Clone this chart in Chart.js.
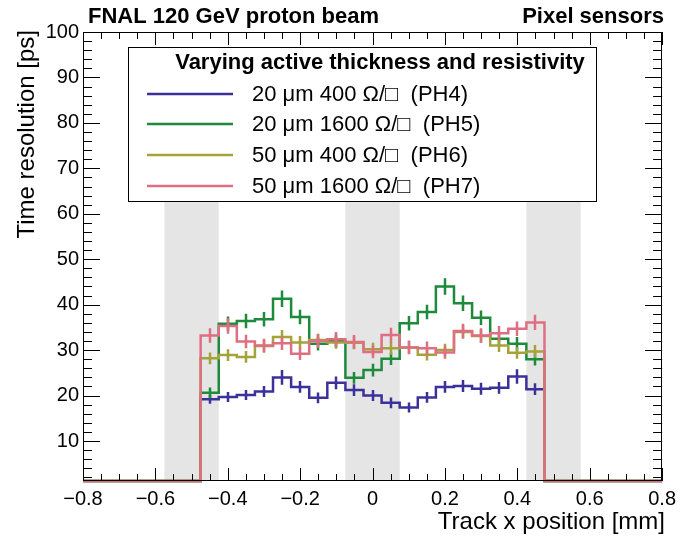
<!DOCTYPE html>
<html><head><meta charset="utf-8">
<script src="https://cdn.jsdelivr.net/npm/chart.js@4/dist/chart.umd.min.js"></script>
<style>html,body{margin:0;padding:0;background:#fff}#wrap{width:682px;height:537px}canvas{display:block}</style>
</head><body>
<div id="wrap"><canvas id="c" width="682" height="537"></canvas></div>
<script>
// ---- data ----
const binCenters = [-0.45,-0.40,-0.35,-0.30,-0.25,-0.20,-0.15,-0.10,-0.05,0.00,0.05,0.10,0.15,0.20,0.25,0.30,0.35,0.40,0.45];
const binWidth = 0.05;
const ph4 = [19.2,19.7,20.1,20.9,24.0,21.9,19.5,22.8,21.2,20.0,18.4,17.4,19.6,21.9,22.1,21.5,21.7,24.2,21.4];
const ph5 = [20.6,35.8,36.4,36.8,41.3,37.3,31.4,32.0,23.9,25.6,28.1,35.9,38.4,44.0,40.3,37.1,32.5,31.4,28.0];
const ph6 = [28.2,28.9,28.5,30.9,32.9,31.7,32.2,31.7,31.6,30.2,30.4,30.6,29.0,30.0,34.0,33.1,31.0,29.4,29.7];
const ph7 = [33.2,35.3,31.9,31.0,31.5,29.2,32.0,32.4,31.8,29.6,33.3,30.6,30.4,29.5,34.2,33.2,33.7,34.7,36.1];
const ph4Err = [1.0,1.1,1.1,1.2,1.6,1.3,1.2,1.4,1.3,1.2,1.2,1.1,1.2,1.3,1.3,1.3,1.3,1.6,1.3];
const ph5Err = [1.2,1.6,1.6,1.6,1.8,1.6,1.5,1.5,1.3,1.4,1.4,1.6,1.6,1.8,1.7,1.6,1.5,1.5,1.4];
const ph6Err = [1.3,1.3,1.3,1.4,1.5,1.4,1.4,1.4,1.4,1.4,1.4,1.4,1.3,1.4,1.5,1.5,1.4,1.3,1.4];
const ph7Err = [1.6,1.7,1.5,1.5,1.5,1.4,1.5,1.6,1.5,1.4,1.6,1.5,1.5,1.4,1.6,1.6,1.6,1.6,1.7];
const seriesLabels = ['20 \u03bcm 400 \u03a9/\u25a1  (PH4)','20 \u03bcm 1600 \u03a9/\u25a1  (PH5)','50 \u03bcm 400 \u03a9/\u25a1  (PH6)','50 \u03bcm 1600 \u03a9/\u25a1  (PH7)'];
const seriesColors = ['#3b3199','#1d8a3c','#a5a23a','#de6f83'];
const xTickValues = [-0.8,-0.6,-0.4,-0.2,0,0.2,0.4,0.6,0.8];
const yTickValues = [10,20,30,40,50,60,70,80,90,100];
const bandCenters = [-0.5,0,0.5];
const bandHalfWidth = 0.075;
const xMin = -0.8, xMax = 0.8, yMin = 1.2, yMax = 100;

const FONT = '"Liberation Sans","Arial","DejaVu Sans",sans-serif';

function histPoints(vals){
  // ROOT draws empty bins (value 0 < axis minimum) on the frame bottom
  const pts = [{x:xMin, y:yMin}];
  binCenters.forEach((c,i)=>pts.push({x:+(c-binWidth/2).toFixed(4), y:vals[i]}));
  pts.push({x:+(binCenters[binCenters.length-1]+binWidth/2).toFixed(4), y:yMin});
  pts.push({x:xMax, y:yMin});
  return pts;
}
const allVals = [ph4,ph5,ph6,ph7];
const allErr = [ph4Err,ph5Err,ph6Err,ph7Err];

const datasets = allVals.map((v,i)=>({
  label: seriesLabels[i],
  data: histPoints(v),
  borderColor: seriesColors[i],
  backgroundColor: seriesColors[i],
  borderWidth: 2.5,
  stepped: 'before',
  pointRadius: 0,
  fill: false,
  order: 4-i,
  clip: false
}));

const rootPlugin = {
  id:'rootStyle',
  beforeDatasetsDraw(chart){
    const {ctx, chartArea:a, scales:{x,y}} = chart;
    ctx.save();
    ctx.fillStyle = '#e5e5e5';
    bandCenters.forEach(c=>{
      const x0 = x.getPixelForValue(c-bandHalfWidth), x1 = x.getPixelForValue(c+bandHalfWidth);
      const yt = y.getPixelForValue(70);
      ctx.fillRect(x0, yt, x1-x0, a.bottom-yt);
    });
    ctx.restore();
  },
  afterDatasetDraw(chart, args){
    const i = args.index;
    const {ctx, scales:{x,y}} = chart;
    ctx.save();
    ctx.strokeStyle = seriesColors[i];
    ctx.lineWidth = 2.5;
    ctx.beginPath();
    binCenters.forEach((c,k)=>{
      const px = Math.round(x.getPixelForValue(c));
      ctx.moveTo(px, y.getPixelForValue(allVals[i][k]-allErr[i][k]));
      ctx.lineTo(px, y.getPixelForValue(allVals[i][k]+allErr[i][k]));
    });
    ctx.stroke();
    ctx.restore();
  },
  afterDatasetsDraw(chart){
    const {ctx, chartArea:a, scales:{x,y}} = chart;
    ctx.save();
    // frame
    ctx.strokeStyle = '#000'; ctx.lineWidth = 1;
    ctx.strokeRect(Math.round(a.left)+0.5, Math.round(a.top)+0.5, Math.round(a.right-a.left)-1, Math.round(a.bottom-a.top)-1);
    // x ticks
    ctx.beginPath();
    for (let k=0;k<=32;k++){
      const v = xMin + k*0.05;
      const px = Math.round(x.getPixelForValue(v))+0.5;
      const len = (k%4===0) ? 13 : 7;
      ctx.moveTo(px, a.bottom); ctx.lineTo(px, a.bottom-len);
      ctx.moveTo(px, a.top); ctx.lineTo(px, a.top+len);
    }
    // y ticks
    for (let v=2; v<=100; v+=2){
      if (v < yMin) continue;
      const py = Math.round(y.getPixelForValue(v))+0.5;
      const len = (v%10===0) ? 17 : 9;
      ctx.moveTo(a.left, py); ctx.lineTo(a.left+len, py);
      ctx.moveTo(a.right, py); ctx.lineTo(a.right-len, py);
    }
    ctx.stroke();
    // legend
    const L = {x0:128, y0:47, x1:597, y1:202};
    ctx.fillStyle = '#fff';
    ctx.fillRect(L.x0, L.y0, L.x1-L.x0, L.y1-L.y0);
    ctx.strokeStyle = '#000'; ctx.lineWidth = 1;
    ctx.strokeRect(L.x0+0.5, L.y0+0.5, L.x1-L.x0-1, L.y1-L.y0-1);
    ctx.fillStyle = '#000';
    ctx.textBaseline = 'middle';
    ctx.textAlign = 'center';
    ctx.font = 'bold 22px '+FONT;
    ctx.fillText('Varying active thickness and resistivity', 380, 63);
    ctx.textAlign = 'left';
    ctx.font = '22px '+FONT;
    const rows = [94,124,155,186];
    seriesLabels.forEach((t,i)=>{
      ctx.strokeStyle = seriesColors[i]; ctx.lineWidth = 2.5;
      ctx.beginPath(); ctx.moveTo(147, rows[i]); ctx.lineTo(233, rows[i]); ctx.stroke();
      ctx.fillStyle = '#000';
      ctx.fillText(t, 252, rows[i]+1);
    });
    ctx.restore();
  },
  afterDraw(chart){
    const {ctx} = chart;
    ctx.save();
    ctx.fillStyle = '#000';
    ctx.font = 'bold 22px '+FONT;
    ctx.textBaseline = 'middle';
    ctx.textAlign = 'left';
    ctx.fillText('FNAL 120 GeV proton beam', 88, 17);
    ctx.textAlign = 'right';
    ctx.fillText('Pixel sensors', 664, 17);
    ctx.font = '24px '+FONT;
    ctx.fillText('Track x position [mm]', 665, 522);
    ctx.translate(27, 30);
    ctx.rotate(-Math.PI/2);
    ctx.textAlign = 'right';
    ctx.fillText('Time resolution [ps]', 0, 0);
    ctx.restore();
  }
};

new Chart(document.getElementById('c'), {
  type:'line',
  data:{datasets},
  options:{
    responsive:false,
    devicePixelRatio:1,
    animation:false,
    layout:{padding:{left:0,top:32,right:16,bottom:0}},
    plugins:{legend:{display:false}, tooltip:{enabled:false}, title:{display:false}},
    scales:{
      x:{
        type:'linear', min:xMin, max:xMax,
        grid:{display:false, drawTicks:false}, border:{display:false},
        afterBuildTicks(s){ s.ticks = xTickValues.map(v=>({value:v})); },
        afterFit(s){ s.height = 56; },
        ticks:{
          padding:6, color:'#000', maxRotation:0, autoSkip:false,
          font:{family:FONT, size:20},
          callback:(v)=> (v===0 ? '0' : (v<0 ? '\u2212'+Math.abs(v).toFixed(1) : v.toFixed(1)))
        }
      },
      y:{
        type:'linear', min:yMin, max:yMax,
        grid:{display:false, drawTicks:false}, border:{display:false},
        afterBuildTicks(s){ s.ticks = yTickValues.map(v=>({value:v})); },
        afterFit(s){ s.width = 83; },
        ticks:{
          padding:4, color:'#000', autoSkip:false,
          font:{family:FONT, size:20},
          callback:(v)=> String(v)
        }
      }
    }
  },
  plugins:[rootPlugin]
});
</script>
</body></html>
